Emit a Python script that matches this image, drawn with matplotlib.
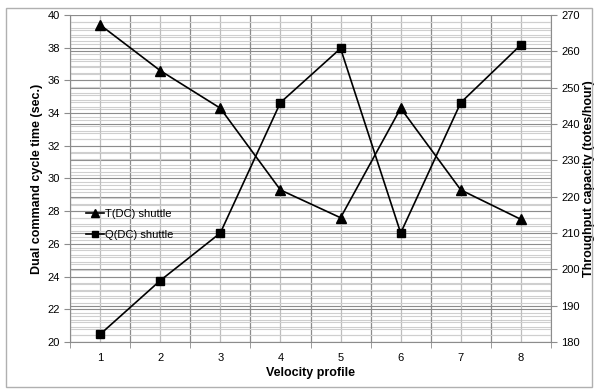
import matplotlib
matplotlib.use("Agg")
import matplotlib.pyplot as plt
from matplotlib.patches import Rectangle
from matplotlib.ticker import MultipleLocator, FixedLocator

plt.rcParams['font.family'] = ['Liberation Sans', 'DejaVu Sans']

# data
profiles = [1, 2, 3, 4, 5, 6, 7, 8]
t_dc = [39.4, 36.6, 34.3, 29.3, 27.6, 34.3, 29.3, 27.5]          # sec.
q_dc = [182.1, 196.9, 210.0, 245.9, 260.8, 210.0, 245.9, 261.8]  # totes/hour

fig = plt.figure(figsize=(5.97, 3.89), dpi=100)
fig.subplots_adjust(left=70/597, right=551/597, top=1-15/389, bottom=1-342/389)

ax = fig.add_subplot(111)
ax2 = ax.twinx()
# ax on top holds the lines, ax2 only gives right scale + its grid
ax.set_zorder(2)
ax2.set_zorder(1)
ax.patch.set_visible(False)

ax.set_xlim(0.5, 8.5)
ax.set_ylim(20, 40)
ax2.set_ylim(180, 270)

# grids
ax.yaxis.set_major_locator(MultipleLocator(2))
ax.yaxis.set_minor_locator(MultipleLocator(0.4))
ax2.yaxis.set_major_locator(MultipleLocator(10))
ax2.yaxis.set_minor_locator(MultipleLocator(2))
ax.xaxis.set_major_locator(FixedLocator(profiles))
ax.xaxis.set_minor_locator(FixedLocator([p + 0.5 for p in [0] + profiles]))

ax.grid(True, axis='y', which='major', color='#8c8c8c', lw=0.8)
ax.grid(True, axis='y', which='minor', color='#cfcfcf', lw=0.8)
ax2.grid(True, axis='y', which='major', color='#8c8c8c', lw=0.8)
ax2.grid(True, axis='y', which='minor', color='#cfcfcf', lw=0.8)
ax.grid(True, axis='x', which='major', color='#bdbdbd', lw=0.9)
ax.grid(True, axis='x', which='minor', color='#8c8c8c', lw=0.9)
ax.set_axisbelow(True)
ax2.set_axisbelow(True)

ax.plot(profiles, t_dc, color='black', lw=1.2, marker='^', ms=7, label='T(DC) shuttle', zorder=3)
ax.plot(profiles, q_dc, color='black', lw=1.2, marker='s', ms=6, label='Q(DC) shuttle',
        transform=ax2.transData, zorder=3)

# ticks and spines
for a in (ax, ax2):
    for s in a.spines.values():
        s.set_visible(False)
ax.spines['left'].set_visible(True)
ax.spines['bottom'].set_visible(True)
ax2.spines['right'].set_visible(True)
for s in ('left', 'bottom'):
    ax.spines[s].set_color('#8c8c8c')
ax2.spines['right'].set_color('#8c8c8c')

ax.tick_params(axis='x', which='major', length=0, labelsize=8, pad=8)
ax.tick_params(axis='x', which='minor', length=4, color='#8c8c8c', direction='out')
ax.tick_params(axis='y', which='major', length=4, color='#8c8c8c', labelsize=8)
ax.tick_params(axis='y', which='minor', length=0)
ax2.tick_params(axis='y', which='major', length=4, color='#8c8c8c', labelsize=8)
ax2.tick_params(axis='y', which='minor', length=0)

ax.set_xlabel('Velocity profile', fontsize=9, fontweight='bold', labelpad=3)
ax.set_ylabel('Dual command cycle time (sec.)', fontsize=9, fontweight='bold', labelpad=3)
ax2.set_ylabel('Throughput capacity (totes/hour)', fontsize=9, fontweight='bold', labelpad=2)

ax.legend(loc='upper left', bbox_to_anchor=(0.025, 0.42), frameon=False, fontsize=8,
          handlelength=1.6, handletextpad=0.1, labelspacing=1.0, borderaxespad=0,
          markerscale=0.8)

# light border round the whole chart
fig.patches.append(Rectangle((6/597, 2/389), 586/597, 379/389, transform=fig.transFigure,
                             fill=False, edgecolor='#b0b0b0', lw=1.0))

fig.savefig('out.png', dpi=100)
